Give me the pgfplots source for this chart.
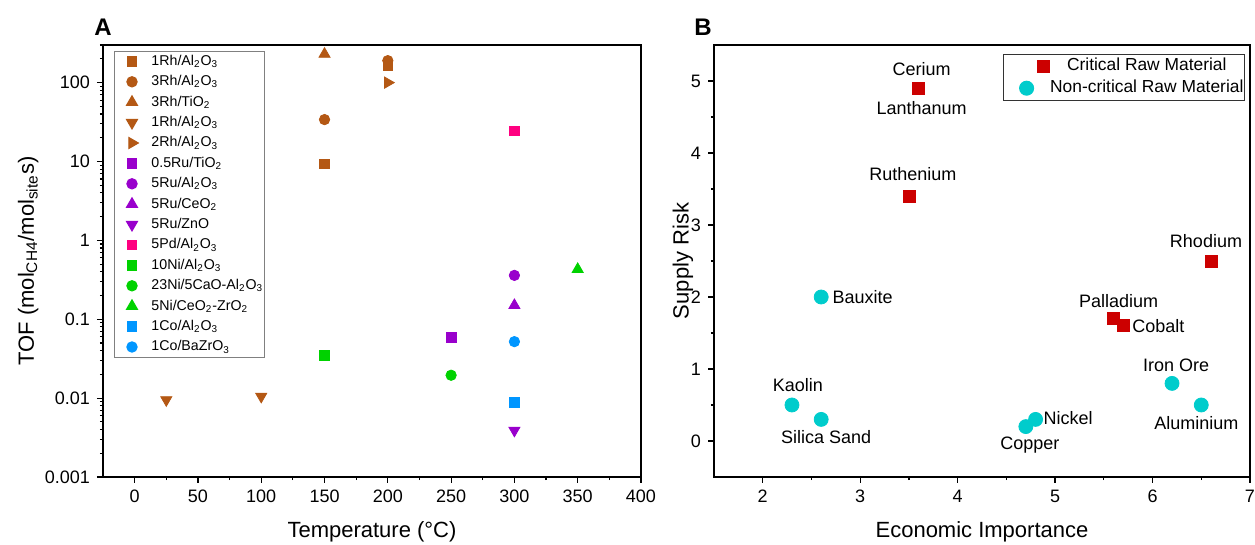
\documentclass[border=0pt]{standalone}
\usepackage{fontspec}
\setmainfont{Liberation Sans}
\usepackage{pgfplots}
\pgfplotsset{compat=1.18}

\definecolor{rh}{RGB}{180,88,20}
\definecolor{ru}{RGB}{153,0,204}
\definecolor{pd}{RGB}{255,0,128}
\definecolor{ni}{RGB}{0,210,0}
\definecolor{co}{RGB}{0,150,255}
\definecolor{crm}{RGB}{204,0,0}
\definecolor{ncrm}{RGB}{0,204,204}

\newcommand{\sub}[1]{\textsubscript{#1}}

\pgfplotsset{
  panel/.style={
    scale only axis, width=269pt, height=216pt, anchor=south west,
    axis line style={line width=0.75pt},
    every tick/.style={black, line width=0.6pt},
    major tick length=3pt, minor tick length=1.6pt,
    tick align=outside, xtick pos=bottom, ytick pos=left,
    ticklabel style={font=\fontsize{9}{10}\selectfont},
    label style={font=\fontsize{11}{13}\selectfont},
    /pgf/number format/assume math mode=true,
    clip=false,
  },
  pA/.style={only marks, mark size=2.6pt, color=#1, mark options={fill=#1, draw=#1}},
  pAs/.style={only marks, mark size=2.4pt, color=#1, mark options={fill=#1, draw=#1}},
  pAt/.style={only marks, mark size=3.2pt, color=#1, mark options={fill=#1, draw=#1}},
  legA/.style={legend image code/.code={\draw[##1] plot coordinates {(8.2pt,0pt)}; \path (0pt,0pt) (17.5pt,0pt);}},
  legBsq/.style={legend image code/.code={\draw[##1] plot coordinates {(19.7pt,0pt)}; \path (0pt,0pt) (22.5pt,0pt);}},
  legBci/.style={legend image code/.code={\draw[##1] plot coordinates {(11.2pt,0pt)}; \path (0pt,0pt) (22.5pt,0pt);}},
}

\begin{document}
\begin{tikzpicture}
\path[use as bounding box] (0pt,0pt) rectangle (627.5pt,272.5pt);

% ---------------- panel A ----------------
\begin{axis}[panel, at={(51.5pt,34pt)},
  xmin=-25, xmax=400, ymode=log, ymin=0.001, ymax=300,
  xtick={0,50,...,400}, minor x tick num=1,
  ytick={0.001,0.01,0.1,1,10,100},
  yticklabels={0.001,0.01,0.1,1,10,100},
  minor ytick={0.002,0.003,0.004,0.005,0.006,0.007,0.008,0.009,
    0.02,0.03,0.04,0.05,0.06,0.07,0.08,0.09,
    0.2,0.3,0.4,0.5,0.6,0.7,0.8,0.9,
    2,3,4,5,6,7,8,9,20,30,40,50,60,70,80,90,200,300},
  xlabel={Temperature (°C)},
  ylabel={TOF (mol\sub{CH4}/mol\sub{site}s)},
  xlabel style={at={(axis description cs:0.5,-0.127)}, anchor=center},
  ylabel style={at={(axis description cs:-0.139,0.5)}, anchor=center},
  legend style={at={(axis description cs:0,1)}, xshift=5.5pt, yshift=-2.85pt,
    anchor=north west, draw=gray, line width=0.5pt,
    font=\fontsize{7.1}{8}\selectfont, inner ysep=0pt, inner xsep=0.3pt,
    nodes={text height=6pt, text depth=2pt, inner ysep=1.1pt, inner xsep=0.2pt}},
  legend cell align=left,
  legA,
]
\addplot[pAs=rh, mark=square*] coordinates {(150,9.3) (200,165)};
\addplot[pA=rh, mark=*] coordinates {(150,34) (200,190)};
\addplot[pAt=rh, mark=triangle*] coordinates {(150,230)};
\addplot[pAt=rh, mark=triangle*, mark options={rotate=180}] coordinates {(25,0.0095) (100,0.0105)};
\addplot[pAt=rh, mark=triangle*, mark options={rotate=-90}] coordinates {(200,100)};
\addplot[pAs=ru, mark=square*] coordinates {(250,0.059)};
\addplot[pA=ru, mark=*] coordinates {(300,0.36)};
\addplot[pAt=ru, mark=triangle*] coordinates {(300,0.15)};
\addplot[pAt=ru, mark=triangle*, mark options={rotate=180}] coordinates {(300,0.0039)};
\addplot[pAs=pd, mark=square*] coordinates {(300,24.5)};
\addplot[pAs=ni, mark=square*] coordinates {(150,0.035)};
\addplot[pA=ni, mark=*] coordinates {(250,0.0195)};
\addplot[pAt=ni, mark=triangle*] coordinates {(350,0.43)};
\addplot[pAs=co, mark=square*] coordinates {(300,0.0088)};
\addplot[pA=co, mark=*] coordinates {(300,0.052)};
\legend{1Rh/Al\sub{2}O\sub{3}, 3Rh/Al\sub{2}O\sub{3}, 3Rh/TiO\sub{2}, 1Rh/Al\sub{2}O\sub{3},
  2Rh/Al\sub{2}O\sub{3}, 0.5Ru/TiO\sub{2}, 5Ru/Al\sub{2}O\sub{3}, 5Ru/CeO\sub{2}, 5Ru/ZnO,
  5Pd/Al\sub{2}O\sub{3}, 10Ni/Al\sub{2}O\sub{3}, 23Ni/5CaO-Al\sub{2}O\sub{3},
  5Ni/CeO\sub{2}-ZrO\sub{2}, 1Co/Al\sub{2}O\sub{3}, 1Co/BaZrO\sub{3}}
\end{axis}

% ---------------- panel B ----------------
\begin{axis}[panel, at={(357pt,34pt)}, width=268pt,
  xmin=1.5, xmax=7, ymin=-0.5, ymax=5.5,
  xtick={2,...,7}, minor x tick num=1,
  ytick={0,...,5}, minor y tick num=1,
  xlabel={Economic Importance}, ylabel={Supply Risk},
  xlabel style={at={(axis description cs:0.5,-0.127)}, anchor=center},
  ylabel style={at={(axis description cs:-0.058,0.5)}, anchor=center},
  legend style={at={(axis description cs:1,1)}, xshift=-2.5pt, yshift=-4.5pt,
    anchor=north east, draw=black!80, line width=0.5pt,
    font=\fontsize{8.7}{10}\selectfont, inner ysep=0.5pt, inner xsep=0.3pt,
    nodes={text height=6.5pt, text depth=2pt, inner ysep=1.2pt, inner xsep=0.2pt}},
  legend cell align=center,
]
\addplot[only marks, mark=square*, mark size=3pt, color=crm,
  mark options={fill=crm, draw=crm}, legBsq]
  coordinates {(3.6,4.9) (3.5,3.4) (6.6,2.5) (5.6,1.7) (5.7,1.6)};
\addplot[only marks, mark=*, mark size=3.5pt, color=ncrm,
  mark options={fill=ncrm, draw=ncrm}, legBci]
  coordinates {(2.6,2.0) (2.3,0.5) (2.6,0.3) (4.7,0.2) (4.8,0.3) (6.2,0.8) (6.5,0.5)};
\legend{Critical Raw Material, Non-critical Raw Material}

\begin{scope}[every node/.style={font=\fontsize{9}{10}\selectfont, inner sep=0pt}]
\node[xshift=1.5pt, yshift=9.5pt] at (axis cs:3.6,4.9) {Cerium};
\node[xshift=1.5pt, yshift=-10pt] at (axis cs:3.6,4.9) {Lanthanum};
\node[xshift=2pt, yshift=11pt] at (axis cs:3.5,3.4) {Ruthenium};
\node[xshift=-2.5pt, yshift=10pt] at (axis cs:6.6,2.5) {Rhodium};
\node[xshift=2.5pt, yshift=9pt] at (axis cs:5.6,1.7) {Palladium};
\node[anchor=west, xshift=4.3pt] at (axis cs:5.7,1.6) {Cobalt};
\node[anchor=west, xshift=5.5pt] at (axis cs:2.6,2.0) {Bauxite};
\node[xshift=3pt, yshift=10pt] at (axis cs:2.3,0.5) {Kaolin};
\node[xshift=2.5pt, yshift=-9pt] at (axis cs:2.6,0.3) {Silica Sand};
\node[xshift=2pt, yshift=-9pt] at (axis cs:4.7,0.2) {Copper};
\node[anchor=west, xshift=3.8pt, yshift=0.5pt] at (axis cs:4.8,0.3) {Nickel};
\node[xshift=2pt, yshift=9pt] at (axis cs:6.2,0.8) {Iron Ore};
\node[xshift=-2.5pt, yshift=-9pt] at (axis cs:6.5,0.5) {Aluminium};
\end{scope}
\end{axis}

\node[font=\fontsize{12}{14}\selectfont\bfseries] at (51.5pt,259pt) {A};
\node[font=\fontsize{12}{14}\selectfont\bfseries] at (351.5pt,259pt) {B};
\end{tikzpicture}
\end{document}
